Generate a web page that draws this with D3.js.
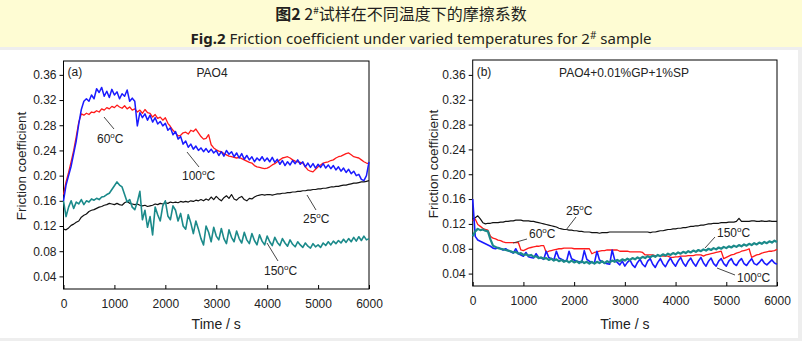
<!DOCTYPE html>
<html><head><meta charset="utf-8">
<script src="https://cdn.jsdelivr.net/npm/d3@7"></script>
<style>body{margin:0;background:#fff}svg{display:block}</style>
</head><body>
<svg id="c" width="802" height="341"></svg>
<script>
// ---- data ----
const time = d3.range(0, 6001, 50); // seconds, sampling grid
const xTicks = [0,1000,2000,3000,4000,5000,6000];
const yTicks = [0.04,0.08,0.12,0.16,0.20,0.24,0.28,0.32,0.36];

// panel (a) PAO4
const a25 = [0.115,0.114,0.117,0.121,0.123,0.126,0.128,0.134,0.137,0.139,0.143,0.145,0.146,0.148,0.150,0.151,0.153,0.154,0.156,0.155,0.154,0.156,0.154,0.153,0.157,0.159,0.156,0.155,0.154,0.155,0.153,0.152,0.153,0.151,0.152,0.153,0.155,0.154,0.156,0.155,0.157,0.156,0.158,0.157,0.158,0.157,0.159,0.158,0.159,0.158,0.160,0.159,0.161,0.160,0.162,0.160,0.163,0.161,0.166,0.162,0.167,0.163,0.160,0.165,0.168,0.164,0.170,0.163,0.161,0.165,0.167,0.162,0.160,0.164,0.163,0.166,0.168,0.169,0.170,0.169,0.170,0.170,0.169,0.170,0.171,0.171,0.172,0.172,0.173,0.173,0.174,0.174,0.175,0.175,0.176,0.176,0.177,0.177,0.178,0.178,0.179,0.179,0.180,0.180,0.181,0.182,0.182,0.183,0.183,0.184,0.185,0.185,0.186,0.187,0.188,0.188,0.189,0.190,0.190,0.191,0.192];
const a60 = [0.170,0.190,0.205,0.222,0.240,0.262,0.285,0.298,0.296,0.299,0.297,0.301,0.300,0.303,0.301,0.306,0.304,0.308,0.306,0.310,0.308,0.312,0.309,0.307,0.311,0.306,0.309,0.304,0.306,0.301,0.304,0.299,0.305,0.300,0.299,0.293,0.297,0.291,0.293,0.288,0.292,0.283,0.278,0.272,0.268,0.263,0.264,0.268,0.269,0.266,0.272,0.270,0.274,0.268,0.262,0.258,0.259,0.265,0.249,0.244,0.241,0.239,0.238,0.235,0.233,0.231,0.230,0.229,0.228,0.229,0.227,0.225,0.223,0.221,0.220,0.216,0.214,0.213,0.212,0.211,0.212,0.214,0.217,0.219,0.222,0.225,0.228,0.229,0.230,0.228,0.225,0.223,0.222,0.221,0.220,0.214,0.209,0.207,0.206,0.210,0.214,0.217,0.220,0.221,0.222,0.224,0.225,0.228,0.230,0.231,0.233,0.235,0.236,0.233,0.230,0.229,0.228,0.225,0.222,0.220,0.219];
const a100 = [0.160,0.185,0.200,0.215,0.235,0.255,0.282,0.305,0.318,0.322,0.318,0.328,0.322,0.338,0.332,0.340,0.326,0.334,0.324,0.337,0.328,0.333,0.322,0.330,0.326,0.336,0.318,0.323,0.318,0.279,0.300,0.292,0.298,0.288,0.296,0.285,0.292,0.282,0.286,0.279,0.283,0.272,0.276,0.265,0.270,0.258,0.262,0.250,0.255,0.245,0.250,0.242,0.247,0.240,0.244,0.238,0.243,0.237,0.242,0.236,0.240,0.232,0.238,0.231,0.240,0.234,0.238,0.230,0.236,0.228,0.235,0.226,0.232,0.225,0.230,0.222,0.228,0.224,0.230,0.223,0.228,0.222,0.229,0.221,0.226,0.218,0.224,0.216,0.222,0.217,0.224,0.219,0.225,0.218,0.222,0.214,0.220,0.213,0.219,0.212,0.218,0.213,0.219,0.212,0.217,0.211,0.216,0.209,0.214,0.207,0.212,0.205,0.210,0.203,0.207,0.200,0.202,0.194,0.192,0.200,0.222];
const a150 = [0.160,0.135,0.150,0.160,0.148,0.158,0.155,0.162,0.154,0.160,0.158,0.163,0.161,0.164,0.162,0.166,0.167,0.170,0.172,0.178,0.184,0.190,0.185,0.182,0.170,0.158,0.162,0.150,0.146,0.158,0.175,0.130,0.145,0.118,0.135,0.106,0.150,0.138,0.128,0.152,0.160,0.136,0.130,0.152,0.145,0.128,0.140,0.120,0.115,0.138,0.125,0.108,0.128,0.115,0.100,0.090,0.120,0.110,0.095,0.118,0.104,0.098,0.116,0.100,0.092,0.114,0.102,0.095,0.112,0.100,0.093,0.110,0.098,0.092,0.108,0.097,0.090,0.106,0.096,0.090,0.104,0.095,0.089,0.102,0.094,0.089,0.100,0.093,0.088,0.098,0.091,0.087,0.095,0.090,0.086,0.093,0.088,0.085,0.092,0.087,0.090,0.086,0.093,0.089,0.095,0.090,0.096,0.092,0.097,0.093,0.099,0.094,0.100,0.095,0.102,0.096,0.103,0.097,0.104,0.098,0.100];

// panel (b) PAO4+0.01%GP+1%SP
const b25 = [0.128,0.130,0.133,0.128,0.122,0.120,0.121,0.121,0.122,0.122,0.122,0.123,0.123,0.124,0.124,0.125,0.125,0.126,0.126,0.126,0.125,0.125,0.125,0.124,0.124,0.123,0.122,0.121,0.120,0.119,0.118,0.117,0.116,0.115,0.113,0.112,0.111,0.111,0.110,0.110,0.109,0.109,0.108,0.108,0.107,0.107,0.107,0.106,0.106,0.106,0.105,0.106,0.106,0.106,0.107,0.107,0.107,0.107,0.107,0.107,0.107,0.107,0.107,0.107,0.107,0.107,0.107,0.107,0.107,0.107,0.106,0.107,0.107,0.108,0.109,0.109,0.110,0.111,0.111,0.112,0.112,0.113,0.113,0.114,0.114,0.115,0.116,0.116,0.117,0.117,0.118,0.118,0.119,0.120,0.120,0.121,0.121,0.121,0.122,0.122,0.122,0.123,0.123,0.123,0.124,0.129,0.124,0.124,0.124,0.124,0.125,0.125,0.124,0.124,0.125,0.124,0.124,0.125,0.124,0.124,0.124];
const b60 = [0.125,0.128,0.119,0.116,0.113,0.111,0.110,0.100,0.097,0.096,0.094,0.093,0.091,0.090,0.090,0.090,0.090,0.090,0.090,0.078,0.077,0.079,0.081,0.082,0.083,0.084,0.084,0.085,0.085,0.074,0.076,0.077,0.078,0.079,0.080,0.080,0.081,0.081,0.081,0.081,0.080,0.080,0.080,0.080,0.080,0.080,0.080,0.072,0.074,0.075,0.076,0.077,0.077,0.078,0.078,0.078,0.078,0.078,0.076,0.076,0.076,0.076,0.075,0.075,0.075,0.075,0.075,0.074,0.070,0.070,0.070,0.070,0.069,0.069,0.069,0.068,0.068,0.068,0.066,0.066,0.067,0.067,0.068,0.068,0.068,0.069,0.069,0.069,0.070,0.070,0.070,0.068,0.070,0.071,0.072,0.073,0.074,0.075,0.076,0.064,0.066,0.068,0.070,0.071,0.073,0.074,0.076,0.077,0.078,0.080,0.066,0.068,0.070,0.071,0.073,0.074,0.075,0.076,0.076,0.077,0.079];
const b100 = [0.160,0.100,0.094,0.092,0.090,0.088,0.086,0.084,0.081,0.080,0.082,0.080,0.078,0.080,0.077,0.075,0.073,0.080,0.072,0.070,0.068,0.074,0.067,0.066,0.065,0.072,0.066,0.065,0.063,0.076,0.066,0.064,0.062,0.076,0.065,0.063,0.061,0.060,0.076,0.064,0.062,0.060,0.059,0.058,0.077,0.063,0.060,0.058,0.057,0.076,0.062,0.059,0.057,0.056,0.055,0.078,0.062,0.058,0.054,0.060,0.052,0.058,0.062,0.054,0.050,0.058,0.063,0.055,0.051,0.060,0.064,0.055,0.050,0.058,0.064,0.056,0.051,0.059,0.065,0.057,0.052,0.060,0.066,0.057,0.052,0.060,0.065,0.057,0.052,0.060,0.066,0.057,0.052,0.060,0.065,0.056,0.052,0.060,0.064,0.056,0.052,0.060,0.064,0.056,0.053,0.060,0.064,0.056,0.053,0.059,0.064,0.056,0.054,0.058,0.063,0.057,0.054,0.058,0.062,0.057,0.055];
const b150 = [0.100,0.108,0.112,0.110,0.111,0.109,0.108,0.095,0.085,0.083,0.081,0.080,0.079,0.078,0.077,0.076,0.074,0.075,0.072,0.073,0.070,0.071,0.069,0.070,0.067,0.068,0.065,0.066,0.064,0.065,0.062,0.064,0.061,0.063,0.060,0.062,0.059,0.061,0.058,0.061,0.058,0.060,0.057,0.060,0.057,0.059,0.056,0.059,0.056,0.059,0.057,0.060,0.057,0.060,0.058,0.061,0.059,0.062,0.060,0.063,0.061,0.064,0.062,0.065,0.063,0.066,0.064,0.067,0.065,0.068,0.066,0.069,0.067,0.070,0.068,0.071,0.069,0.072,0.070,0.073,0.071,0.074,0.072,0.075,0.073,0.076,0.074,0.077,0.075,0.078,0.076,0.079,0.077,0.080,0.078,0.081,0.079,0.082,0.080,0.083,0.081,0.084,0.082,0.085,0.083,0.086,0.084,0.087,0.085,0.088,0.086,0.089,0.087,0.090,0.088,0.091,0.089,0.092,0.090,0.093,0.091];

const colors = {c25:"#111111", c60:"#ff1a1a", c100:"#1a1aff", c150:"#1b8a8a"};

// ---- drawing ----
const svg = d3.select("#c");
const FONT = "'Liberation Sans', Arial, sans-serif";

// backgrounds
svg.append("rect").attr("x",0).attr("y",0).attr("width",802).attr("height",341).attr("fill","#ffffff");
svg.append("rect").attr("x",0).attr("y",0).attr("width",802).attr("height",47).attr("fill","#fefcd3");
svg.append("rect").attr("x",0).attr("y",47).attr("width",802).attr("height",3).attr("fill","#eeeeee");
svg.append("rect").attr("x",798).attr("y",50).attr("width",4).attr("height",291).attr("fill","#eeeeee");
svg.append("rect").attr("x",0).attr("y",338).attr("width",802).attr("height",3).attr("fill","#eeeeee");

// titles
const t1 = svg.append("text").attr("x",401).attr("y",20).attr("text-anchor","middle")
  .attr("font-family","'Noto Sans CJK SC', sans-serif").attr("font-size",16).attr("fill","#231f20");
t1.append("tspan").attr("font-weight","bold").text("图2");
t1.append("tspan").text(" 2");
t1.append("tspan").attr("font-size",10).attr("dy",-6).text("#");
t1.append("tspan").attr("dy",6).text("试样在不同温度下的摩擦系数");

const t2 = svg.append("text").attr("x",421).attr("y",44).attr("text-anchor","middle")
  .attr("font-family","'Noto Sans', sans-serif").attr("font-size",15).attr("fill","#231f20");
t2.append("tspan").attr("font-weight","bold").text("Fig.2");
t2.append("tspan").text(" Friction coefficient under varied temperatures for 2");
t2.append("tspan").attr("font-size",10).attr("dy",-5).text("#");
t2.append("tspan").attr("dy",5).text(" sample");

function degLabel(g, x, y, num) {
  const t = g.append("text").attr("x",x).attr("y",y).attr("font-family",FONT)
    .attr("font-size",12).attr("fill","#222");
  t.append("tspan").text(num);
  t.append("tspan").attr("font-size",8).attr("dy",-5).text("o");
  t.append("tspan").attr("dy",5).text("C");
}

function panel(cfg) {
  const x = d3.scaleLinear().domain([0,6000]).range([cfg.x0, cfg.x1]);
  const y = d3.scaleLinear().domain(cfg.yDom).range([cfg.yb, cfg.yt]);
  const g = svg.append("g");
  // frame
  g.append("rect").attr("x",cfg.x0).attr("y",cfg.yt).attr("width",cfg.x1-cfg.x0).attr("height",cfg.yb-cfg.yt)
    .attr("fill","none").attr("stroke","#000").attr("stroke-width",1);
  // axes
  const xa = g.append("g").attr("transform",`translate(0,${cfg.yb})`)
    .call(d3.axisBottom(x).tickValues(xTicks).tickSize(-4).tickPadding(10).tickFormat(d3.format("d")));
  const ya = g.append("g").attr("transform",`translate(${cfg.x0},0)`)
    .call(d3.axisLeft(y).tickValues(yTicks).tickSize(4).tickPadding(3).tickFormat(d3.format(".2f")));
  [xa, ya].forEach(a => {
    a.select(".domain").remove();
    a.selectAll("line").attr("stroke","#000");
    a.selectAll("text").attr("font-family",FONT).attr("font-size",12).attr("fill","#222");
  });
  // series
  const line = d3.line().x((d,i)=>x(time[i])).y(d=>y(d));
  cfg.series.forEach(s => {
    g.append("path").datum(s.v).attr("d",line).attr("fill","none")
      .attr("stroke",s.c).attr("stroke-width",s.w||1.2).attr("stroke-linejoin","round");
  });
  // axis titles
  g.append("text").attr("x",(cfg.x0+cfg.x1)/2).attr("y",329).attr("text-anchor","middle")
    .attr("font-family",FONT).attr("font-size",14).attr("fill","#222").text("Time / s");
  g.append("text").attr("transform",`translate(${cfg.ylx},${cfg.yly}) rotate(-90)`).attr("text-anchor","middle")
    .attr("font-family",FONT).attr("font-size",13.5).attr("fill","#222").text("Friction coefficient");
  // panel tags
  g.append("text").attr("x",cfg.x0+4).attr("y",76).attr("font-family",FONT).attr("font-size",12).attr("fill","#222").text(cfg.tag);
  g.append("text").attr("x",cfg.nameX).attr("y",77).attr("text-anchor","middle").attr("font-family",FONT)
    .attr("font-size",12).attr("fill","#222").text(cfg.name);
  // annotations
  cfg.labels.forEach(l => {
    degLabel(g, l.x, l.y, l.t);
    g.append("line").attr("x1",l.l[0]).attr("y1",l.l[1]).attr("x2",l.l[2]).attr("y2",l.l[3])
      .attr("stroke","#333").attr("stroke-width",0.9);
  });
}

panel({x0:63.5, x1:369, yt:61, yb:289, yDom:[0.02,0.382], ylx:25.5, yly:166, tag:"(a)", name:"PAO4", nameX:212,
  series:[{v:a25,c:colors.c25},{v:a150,c:colors.c150,w:1.6},{v:a60,c:colors.c60,w:1.3},{v:a100,c:colors.c100,w:1.5}],
  labels:[
    {t:"60",x:97,y:143,l:[104,117,114,129]},
    {t:"100",x:182,y:180,l:[187,152,199,167]},
    {t:"25",x:303,y:223,l:[307,195,316,210]},
    {t:"150",x:264,y:275,l:[267,243,278,261]}
  ]});

panel({x0:472.7, x1:777, yt:60, yb:286, yDom:[0.02,0.384], ylx:438, yly:164, tag:"(b)", name:"PAO4+0.01%GP+1%SP", nameX:624,
  series:[{v:b25,c:colors.c25},{v:b60,c:colors.c60,w:1.3},{v:b100,c:colors.c100,w:1.6},{v:b150,c:colors.c150,w:2.2}],
  labels:[
    {t:"25",x:566,y:215,l:[576,217,566,230]},
    {t:"60",x:529,y:238,l:[527,239,513,243]},
    {t:"150",x:717,y:237,l:[715,237,705,248]},
    {t:"100",x:737,y:282,l:[735,275,717,268]}
  ]});
</script>
</body></html>
